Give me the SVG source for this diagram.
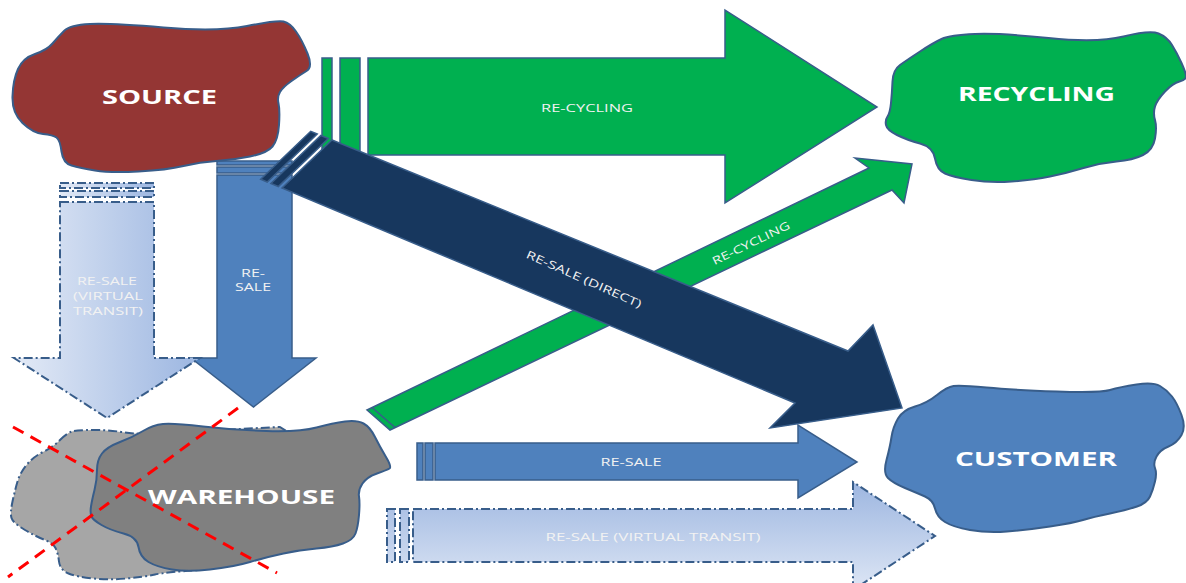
<svg xmlns="http://www.w3.org/2000/svg" width="1186" height="583" viewBox="0 0 1186 583">
<defs>
<style>
.blob{stroke:#385d8a;stroke-width:2;stroke-linejoin:round}
.arr{stroke:#385d8a;stroke-width:1.5;stroke-linejoin:miter}
.dd{stroke:#385d8a;stroke-width:2;stroke-dasharray:9 3 2 3}
.nl{font-family:"Open Sans","DejaVu Sans",sans-serif;font-weight:700;font-size:20px;fill:#ffffff}
.al{font-family:"Open Sans","DejaVu Sans",sans-serif;font-size:11px;fill:#f2f2f2}
.cross{stroke:#ff0000;stroke-width:3;stroke-dasharray:12 8;fill:none}
</style>
<linearGradient id="gV" x1="0" y1="0" x2="1" y2="0">
<stop offset="0" stop-color="#e3eaf6"/>
<stop offset="1" stop-color="#9cb6e1"/>
</linearGradient>
<linearGradient id="gH" gradientUnits="userSpaceOnUse" x1="0" y1="482" x2="0" y2="590">
<stop offset="0" stop-color="#9db6e0"/>
<stop offset="1" stop-color="#dde6f5"/>
</linearGradient>
</defs>
<rect width="1186" height="583" fill="#ffffff"/>

<g id="connectors">
<g id="recycling-direct">
<rect class="arr" x="322" y="58" width="10" height="97" fill="#00b050"/>
<rect class="arr" x="340" y="58" width="20" height="97" fill="#00b050"/>
<path class="arr" fill="#00b050" d="M368,58 H725 V10 L877,107 L725,203 V155 H368 Z"/>
<text class="al" x="587" y="112" text-anchor="middle" textLength="92" lengthAdjust="spacingAndGlyphs">RE-CYCLING</text>
</g>
<g id="resale-down">
<rect class="arr" x="217" y="161" width="75" height="4" fill="#4f81bd"/>
<rect class="arr" x="217" y="167" width="75" height="6" fill="#4f81bd"/>
<path class="arr" fill="#4f81bd" d="M217,175 H292 V358 H316 L253.5,407 L191,358 H217 Z"/>
<text class="al" x="253" y="277" text-anchor="middle" textLength="24" lengthAdjust="spacingAndGlyphs">RE-</text>
<text class="al" x="253" y="291" text-anchor="middle" textLength="36" lengthAdjust="spacingAndGlyphs">SALE</text>
</g>
<g id="virtual-down">
<rect class="dd" x="60" y="183" width="94" height="5" fill="url(#gV)"/>
<rect class="dd" x="60" y="191" width="94" height="6" fill="url(#gV)"/>
<path class="dd" fill="url(#gV)" d="M60,202 H154 V358 H200 L107,418 L14,358 H60 Z"/>
<text class="al" x="107" y="285" text-anchor="middle" textLength="60" lengthAdjust="spacingAndGlyphs">RE-SALE</text>
<text class="al" x="108" y="300" text-anchor="middle" textLength="70" lengthAdjust="spacingAndGlyphs">(VIRTUAL</text>
<text class="al" x="108" y="315" text-anchor="middle" textLength="70" lengthAdjust="spacingAndGlyphs">TRANSIT)</text>
</g>
<g id="recycling-warehouse">
<path class="arr" fill="#00b050" d="M367,410 L869,168 L855,158 L912,164 L904,203 L892,190 L390,430 Z"/>
<line x1="372" y1="407.5" x2="395" y2="427.5" stroke="#385d8a" stroke-width="1.5"/>
<text class="al" transform="translate(751,243) rotate(-26)" x="0" y="4" text-anchor="middle" textLength="85" lengthAdjust="spacingAndGlyphs">RE-CYCLING</text>
</g>
<g id="resale-direct">
<path class="arr" fill="#17375e" d="M328.3,138.5 L320.9,135.5 L270.9,183.5 L278.3,186.5 Z"/>
<path class="arr" fill="#17375e" d="M317.2,134 L310.7,131.3 L260.7,179.3 L267.2,182 Z"/>
<path class="arr" fill="#17375e" d="M332,140 L848,351 L873,325 L902,408 L770,428 L795,403 L282,188 Z"/>
<text class="al" transform="translate(584,279) rotate(24)" x="0" y="4" text-anchor="middle" textLength="125" lengthAdjust="spacingAndGlyphs">RE-SALE (DIRECT)</text>
</g>
<g id="resale-right">
<rect class="arr" x="417" y="443" width="6" height="37" fill="#4f81bd"/>
<rect class="arr" x="425" y="443" width="8" height="37" fill="#4f81bd"/>
<path class="arr" fill="#4f81bd" d="M435,443 H798 V425 L857,462 L798,498 V480 H435 Z"/>
<text class="al" x="631" y="466" text-anchor="middle" textLength="61" lengthAdjust="spacingAndGlyphs">RE-SALE</text>
</g>
<g id="virtual-right">
<rect class="dd" x="387" y="509" width="8" height="53" fill="url(#gH)"/>
<rect class="dd" x="400" y="509" width="9" height="53" fill="url(#gH)"/>
<path class="dd" fill="url(#gH)" d="M413,509 H853 V482 L935,536 L853,590 V562 H413 Z"/>
<text class="al" x="653" y="541" text-anchor="middle" textLength="215" lengthAdjust="spacingAndGlyphs">RE-SALE (VIRTUAL TRANSIT)</text>
</g>
</g>

<g id="source">
<path class="blob" fill="#943634" d="M52.5,43.5 Q58,37 64,31 Q70,25 90,24 Q110,23 163.5,27.5 Q217,32 247,26 Q277,20 283.5,21.5 Q290,23 296,31.5 Q302,40 307.5,53.5 Q313,67 306.5,71 Q300,75 291.5,81 Q283,87 280,92 Q277,97 278.5,103.5 Q280,110 279,125 Q278,140 272.5,146.5 Q267,153 250,156.5 Q233,160 216.5,161 Q200,162 183.5,166 Q167,170 138.5,171.5 Q110,173 95,170.5 Q80,168 71.5,165.5 Q63,163 61.5,151.5 Q60,140 56.5,137.5 Q53,135 43,134 Q33,133 22.5,123 Q12,113 12.5,96.5 Q13,80 18,69 Q23,58 35,54 Q47,50 52.5,43.5 Z"/>
<text class="nl" x="159.5" y="104" text-anchor="middle" textLength="115" lengthAdjust="spacingAndGlyphs">SOURCE</text>
</g>

<g id="recycling">
<path class="blob" fill="#00b050" d="M892.5,81.5 Q893,70 900,65 Q907,60 920,51.5 Q933,43 941.5,39 Q950,35 975,34 Q1000,33 1048.5,38 Q1097,43 1123.5,36.5 Q1150,30 1158.5,33.5 Q1167,37 1172,45 Q1177,53 1181.5,63 Q1186,73 1186,76.5 Q1186,80 1179.5,81.5 Q1173,83 1165,91.5 Q1157,100 1155,106.5 Q1153,113 1155,120 Q1157,127 1155,138.5 Q1153,150 1143,155 Q1133,160 1116.5,161.5 Q1100,163 1083.5,168 Q1067,173 1050,176.5 Q1033,180 1011.5,181.5 Q990,183 971.5,180 Q953,177 945,173.5 Q937,170 935,158.5 Q933,147 920,143.5 Q907,140 897,135 Q887,130 886,125 Q885,120 887.5,116.5 Q890,113 891,103 Q892,93 892.5,81.5 Z"/>
<text class="nl" x="1036.5" y="101" text-anchor="middle" textLength="157" lengthAdjust="spacingAndGlyphs">RECYCLING</text>
</g>

<g id="customer">
<path class="blob" fill="#4f81bd" d="M891.5,437 Q893,427 898,418.5 Q903,410 915,406.5 Q927,403 937,395 Q947,387 953.5,386 Q960,385 986.5,387.5 Q1013,390 1056.5,391.5 Q1100,393 1110,390 Q1120,387 1136.5,384.5 Q1153,382 1160,386 Q1167,390 1172,396.5 Q1177,403 1181.5,415 Q1186,427 1181.5,435 Q1177,443 1168.5,446.5 Q1160,450 1156.5,456.5 Q1153,463 1155,468 Q1157,473 1155,481.5 Q1153,490 1150,496.5 Q1147,503 1137,506.5 Q1127,510 1110,513.5 Q1093,517 1083,520 Q1073,523 1050,526.5 Q1027,530 1007,531.5 Q987,533 970,530 Q953,527 945,522 Q937,517 935,508.5 Q933,500 925,496.5 Q917,493 905,488 Q893,483 888,478 Q883,473 886.5,460 Q890,447 891.5,437 Z"/>
<text class="nl" x="1036" y="466" text-anchor="middle" textLength="162" lengthAdjust="spacingAndGlyphs">CUSTOMER</text>
</g>

<g id="warehouse">
<path class="dd" fill="#a6a6a6" stroke-linejoin="round" d="M60,440 Q67,433 72,431.5 Q77,430 93.5,430 Q110,430 125,432.5 Q140,435 170,432.5 L280,427 L300,440 L300,540 L200,570 Q167,572 155,574.5 Q143,577 126.5,578.5 Q110,580 93.5,578.5 Q77,577 68.5,573.5 Q60,570 59,561.5 Q58,553 55.5,548 Q53,543 45,540 Q37,537 25,530 Q13,523 11.5,518 Q10,513 12.5,501.5 Q15,490 17.5,481.5 Q20,473 26.5,465 Q33,457 43,452 Q53,447 60,440 Z"/>
<path class="blob" fill="#808080" d="M97,470 Q97,460 102,453.5 Q107,447 120,442 Q133,437 143,431 Q153,425 163,424 Q173,423 203,426.5 Q233,430 266.5,431 Q300,432 316.5,427.5 Q333,423 345,421.5 Q357,420 363.5,423.5 Q370,427 375,437 Q380,447 386,457 Q392,467 389.5,468.5 Q387,470 377,473.5 Q367,477 362.5,483.5 Q358,490 359,496.5 Q360,503 359,515 Q358,527 355.5,533.5 Q353,540 343,543.5 Q333,547 316.5,548.5 Q300,550 283.5,553.5 Q267,557 250,562 Q233,567 210,569.5 Q187,572 172,569.5 Q157,567 148.5,562 Q140,557 138.5,547 Q137,537 123.5,533.5 Q110,530 101.5,525 Q93,520 91.5,516.5 Q90,513 91,506.5 Q92,500 94.5,490 Q97,480 97,470 Z"/>
<text class="nl" x="241.5" y="504" text-anchor="middle" font-size="21" textLength="187" lengthAdjust="spacingAndGlyphs">WAREHOUSE</text>
<line class="cross" x1="13" y1="427" x2="277" y2="573"/>
<line class="cross" x1="238" y1="408" x2="8" y2="577"/>
</g>
</svg>
